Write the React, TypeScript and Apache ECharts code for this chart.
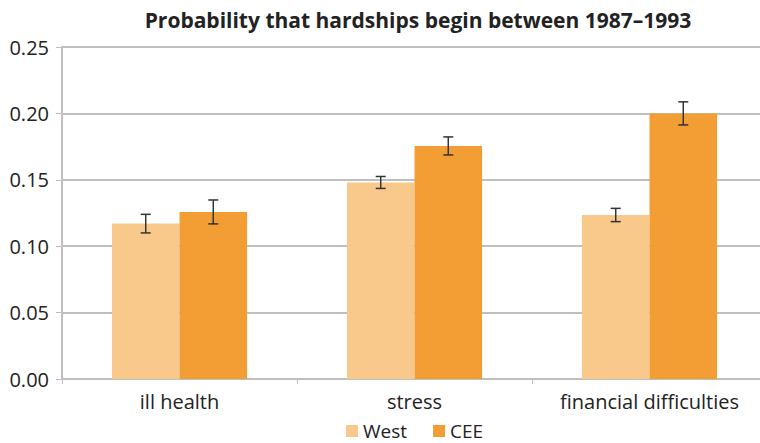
import React, { useEffect, useRef } from "react";
import * as echarts from "echarts";

const categories = ["ill health", "stress", "financial difficulties"];
const westValues = [0.117, 0.148, 0.1235];
const ceeValues = [0.1258, 0.1755, 0.2];
const westErr = [0.007, 0.0045, 0.005];
const ceeErr = [0.009, 0.0068, 0.0087];
const seriesNames = ["West", "CEE"];
const titleText = "Probability that hardships begin between 1987–1993";

const FONT = "'Open Sans', 'Noto Sans', sans-serif";

export default function App() {
  const ref = useRef<HTMLDivElement>(null);
  useEffect(() => {
    if (!ref.current) return;
    const chart = echarts.init(ref.current, null, { renderer: "svg" });
    const errData = (vals: number[], errs: number[]) =>
      vals.map((v, i) => [i, v - errs[i], v + errs[i]]);
    const makeErr = (seriesIdx: number, vals: number[], errs: number[]) => ({
      type: "custom",
      name: seriesNames[seriesIdx] + " err",
      data: errData(vals, errs),
      z: 10,
      silent: true,
      encode: { x: 0, y: [1, 2] },
      renderItem: (params: any, api: any) => {
        const idx = api.value(0);
        const lo = api.coord([idx, api.value(1)]);
        const hi = api.coord([idx, api.value(2)]);
        const bandW = api.size([1, 0])[0];
        const barW = (bandW * 0.575) / 2;
        const x = lo[0] + (seriesIdx === 0 ? -barW / 2 : barW / 2);
        const cap = 5;
        const style = { stroke: "#333", lineWidth: 1.5 };
        return {
          type: "group",
          children: [
            { type: "line", shape: { x1: x, y1: lo[1], x2: x, y2: hi[1] }, style },
            { type: "line", shape: { x1: x - cap, y1: lo[1], x2: x + cap, y2: lo[1] }, style },
            { type: "line", shape: { x1: x - cap, y1: hi[1], x2: x + cap, y2: hi[1] }, style },
          ],
        };
      },
    });
    chart.setOption({
      animation: false,
      title: {
        text: titleText,
        left: 413,
        textAlign: "center",
        top: 4,
        textStyle: { fontFamily: FONT, fontSize: 21, fontWeight: "bold", color: "#222" },
      },
      legend: {
        data: seriesNames,
        top: 421,
        left: 346,
        padding: 0,
        itemWidth: 12,
        itemHeight: 12,
        itemGap: 26,
        icon: "rect",
        textStyle: { fontFamily: FONT, fontSize: 19, lineHeight: 20, color: "#222" },
      },
      grid: { left: 62, top: 47, width: 705, height: 332, containLabel: false },
      xAxis: {
        type: "category",
        data: categories,
        axisLine: { lineStyle: { color: "#BFBFBF", width: 2 } },
        axisTick: { show: true, length: 5, lineStyle: { color: "#BFBFBF" } },
        axisLabel: { fontFamily: FONT, fontSize: 20, color: "#222", margin: 12 },
      },
      yAxis: {
        type: "value",
        min: 0,
        max: 0.25,
        interval: 0.05,
        axisLine: { show: true, lineStyle: { color: "#BFBFBF", width: 2 } },
        axisTick: { show: true, length: 6, lineStyle: { color: "#BFBFBF" } },
        splitLine: { lineStyle: { color: "#BFBFBF", width: 2 } },
        axisLabel: {
          fontFamily: FONT,
          fontSize: 20,
          color: "#222",
          margin: 13,
          formatter: (v: number) => v.toFixed(2),
        },
      },
      series: [
        {
          name: seriesNames[0],
          type: "bar",
          data: westValues,
          barGap: "0%",
          barCategoryGap: "42.5%",
          itemStyle: { color: "#F9C98C" },
        },
        {
          name: seriesNames[1],
          type: "bar",
          data: ceeValues,
          barGap: "0%",
          barCategoryGap: "42.5%",
          itemStyle: { color: "#F39E35" },
        },
        makeErr(0, westValues, westErr),
        makeErr(1, ceeValues, ceeErr),
      ],
    });
    return () => chart.dispose();
  }, []);
  return (
    <div
      style={{
        position: "absolute",
        left: 0,
        top: 0,
        width: 760,
        height: 443,
        overflow: "hidden",
      }}
    >
      <div ref={ref} style={{ width: 790, height: 443 }} />
    </div>
  );
}
